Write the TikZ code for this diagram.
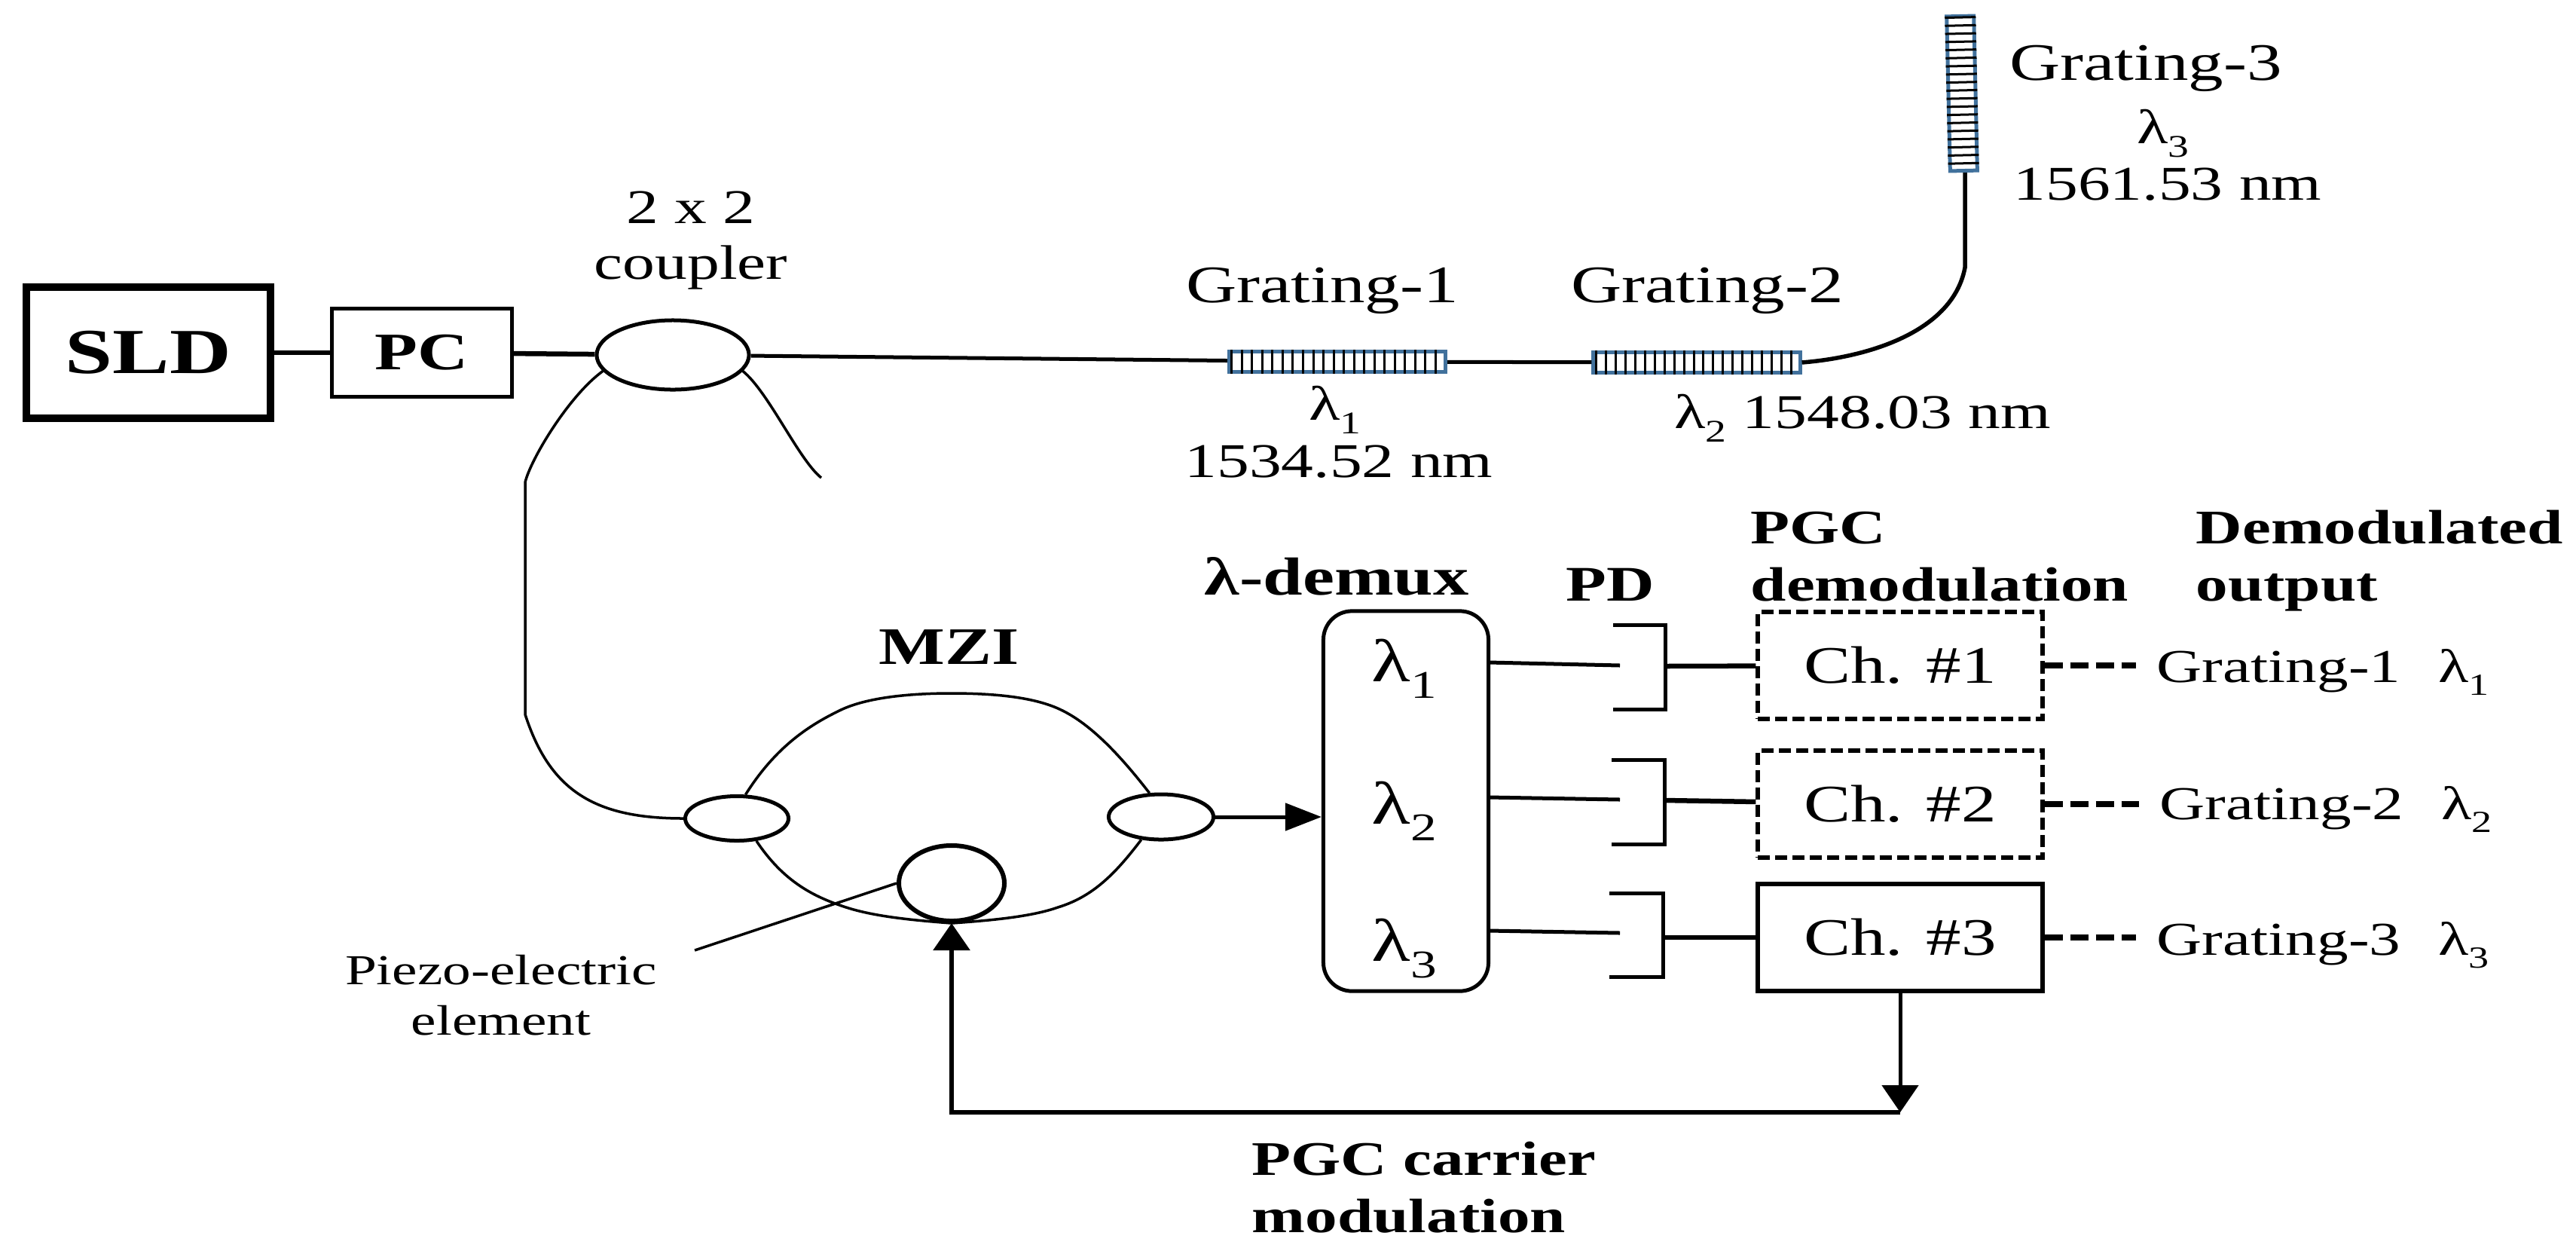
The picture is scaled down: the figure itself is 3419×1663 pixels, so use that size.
\documentclass[tikz,border=0pt]{standalone}
\usepackage{fontspec}
\setmainfont[FakeStretch=1.33]{Liberation Serif}
\usetikzlibrary{arrows.meta,shapes.geometric,calc}

\newcommand{\lamsub}[1]{λ\raisebox{-0.28em}{\scalebox{0.65}{#1}}}

\tikzset{
  lbl/.style={inner sep=0pt, anchor=base, align=center, font=\fontsize{18.3}{21}\selectfont},
  lblgrat/.style={lbl, font=\fontsize{19.9}{21}\selectfont},
  lblsmall/.style={lbl, font=\fontsize{16.1}{18.8}\selectfont},
  lblout/.style={lbl, anchor=base west, font=\fontsize{17.8}{20}\selectfont},
  lblbold/.style={inner sep=0pt, anchor=base west, align=left, font=\fontsize{18.2}{21.6}\selectfont\bfseries},
  fibre/.style={line width=0.035cm},
  lead/.style={line width=0.065cm},
  box/.style={draw, line width=0.05cm, rectangle, inner sep=0pt},
  chbox/.style={box, line width=0.06cm, minimum width=3.77cm, minimum height=1.41cm, font=\fontsize{19.9}{21}\selectfont},
  chdash/.style={dash pattern=on 0.16cm off 0.07cm},
  outdash/.style={line width=0.08cm, dash pattern=on 0.24cm off 0.10cm, shorten >=0.27cm},
  coupler/.style={draw, ellipse, line width=0.05cm, inner sep=0pt, fill=white},
  grating/.style={draw=gratingblue, rectangle, line width=0.05cm, inner sep=0pt},
  bragg/.style={line width=0.03cm},
  tip/.style={-{Triangle[length=0.48cm,width=0.36cm]}},
}
\definecolor{gratingblue}{HTML}{41719C}

\begin{document}
\begin{tikzpicture}[x=0.01cm,y=-0.01cm]
        \useasboundingbox (0,0) rectangle (3419,1663);

        % Source side
        \node[box, line width=0.1cm, minimum width=3.24cm, minimum height=1.74cm, font=\fontsize{24.2}{26}\selectfont\bfseries] (sld) at (197,468) {SLD};
        \node[box, minimum width=2.38cm, minimum height=1.16cm, font=\fontsize{19.9}{21}\selectfont\bfseries] (pc) at (560,468) {PC};
        \node[coupler, minimum width=2.02cm, minimum height=0.92cm] (cpl) at (893,471) {};
        \node[lbl] (cpltxt) at (917,370) {2 x 2\\coupler};

        % Gratings
        \node[grating, minimum width=2.87cm, minimum height=0.27cm] (gr1) at (1775,480) {};
        \node[grating, minimum width=2.74cm, minimum height=0.27cm] (gr2) at (2252,481) {};
        \node[grating, rotate=1.3, minimum width=0.36cm, minimum height=2.05cm] (gr3) at (2604,124) {};
        \foreach \i in {0,...,20} {
            \draw[bragg] ([xshift=0.06cm+\i*0.135cm]gr1.south west) -- ([xshift=0.06cm+\i*0.135cm]gr1.north west);
        }
        \foreach \i in {0,...,20} {
            \draw[bragg] ([xshift=0.06cm+\i*0.1295cm]gr2.south west) -- ([xshift=0.06cm+\i*0.1295cm]gr2.north west);
        }
        \foreach \i in {0,...,18} {
            \draw[bragg] ($(gr3.south west)!{(12+\i*10.5)/205}!(gr3.north west)$) -- ($(gr3.south east)!{(12+\i*10.5)/205}!(gr3.north east)$);
        }
        \node[lblgrat] (gr1txt) at (1755,401) {Grating-1};
        \node[lblgrat] (gr2txt) at (2266,401) {Grating-2};
        \node[lblgrat] (gr3txt) at (2848,106) {Grating-3};
        \node[lbl] (lam1) at (1772,557) {\lamsub{1}};
        \node[lbl] (wl1) at (1777,633) {1534.52 nm};
        \node[lbl] (wl2) at (2472,568) {\lamsub{2} 1548.03 nm};
        \node[lbl] (lam3) at (2871,190) {\lamsub{3}};
        \node[lbl] (wl3) at (2877,265) {1561.53 nm};

        % MZI
        \node[coupler, minimum width=1.37cm, minimum height=0.59cm] (mzil) at (978,1086) {};
        \node[coupler, minimum width=1.39cm, minimum height=0.60cm] (mzir) at (1541,1084) {};
        \node[draw, ellipse, line width=0.06cm, inner sep=0pt, minimum width=1.40cm, minimum height=1.00cm] (pzt) at (1263,1172) {};
        \node[lblbold, anchor=base, font=\fontsize{19.9}{21}\selectfont\bfseries] (mzitxt) at (1260,881) {MZI};
        \node[lblsmall] (pzttxt) at (665,1373) {Piezo-electric\\element};
        \coordinate (pztend) at (922,1261);

        % Demux, photodiodes and channels
        \node[box, rounded corners=0.38cm, minimum width=2.19cm, minimum height=5.04cm] (dmx) at (1866,1063) {};
        \node[lbl, font=\fontsize{22.8}{24}\selectfont] (dl1) at (1864,904) {\lamsub{1}};
        \node[lbl, font=\fontsize{22.8}{24}\selectfont] (dl2) at (1864,1093) {\lamsub{2}};
        \node[lbl, font=\fontsize{22.8}{24}\selectfont] (dl3) at (1864,1275) {\lamsub{3}};
        \node[lblbold, font=\fontsize{20.2}{21.6}\selectfont\bfseries] (dmxtxt) at (1598,789) {λ-demux};
        \node[lblbold, anchor=base, font=\fontsize{18.8}{21}\selectfont\bfseries] (pdtxt) at (2137,797) {PD};
        \node[lblbold] (pgctxt) at (2323,797) {PGC\\demodulation};
        \node[lblbold] (outtxt) at (2914,797) {Demodulated\\output};
        \node[lblbold] (cartxt) at (1661,1635) {PGC carrier\\modulation};

        \node[chbox, chdash] (ch1) at (2522,883) {Ch. \#1};
        \node[chbox, chdash] (ch2) at (2522,1067) {Ch. \#2};
        \node[chbox] (ch3) at (2522,1244) {Ch. \#3};
        \node[lblout] (out1) at (2862,905) {Grating-1\hspace{0.5cm}\lamsub{1}};
        \node[lblout] (out2) at (2866,1087) {Grating-2\hspace{0.5cm}\lamsub{2}};
        \node[lblout] (out3) at (2862,1267) {Grating-3\hspace{0.5cm}\lamsub{3}};

        \coordinate (dm1) at (1976,879);
        \coordinate (dm2) at (1976,1058);
        \coordinate (dm3) at (1976,1235);
        \coordinate (pa1) at (2150,883);
        \coordinate (pa2) at (2150,1061);
        \coordinate (pa3) at (2150,1238);
        \coordinate (pd1) at (2210,884);
        \coordinate (pd2) at (2209,1062);
        \coordinate (pd3) at (2207,1244);
        \draw[line width=0.05cm] (2141,829) -- (2210,829) -- (2210,941) -- (2141,941);
        \draw[line width=0.05cm] (2139,1008) -- (2209,1008) -- (2209,1120) -- (2139,1120);
        \draw[line width=0.05cm] (2136,1185) -- (2207,1185) -- (2207,1296) -- (2136,1296);

        % Fibre paths
        \coordinate (cplend) at (1090,634);
        \coordinate (bendup) at (697,640);
        \coordinate (benddn) at (697,948);
        \coordinate (gr3end) at (2608,355);
        \coordinate (mzitop) at (1262,920);
        \draw[lead] (sld) -- (pc);
        \draw[lead] (pc) -- (cpl);
        \draw[line width=0.05cm] (cpl) -- (gr1);
        \draw[line width=0.05cm] (gr1) -- (gr2);
        \draw[line width=0.055cm] (gr2.east) .. controls (2480,474) and (2592,440) .. (gr3end) -- (gr3end |- gr3.south);
        \draw[fibre] (cpl.193) .. controls (755,525) and (704,610) .. (bendup) -- (benddn)
            .. controls (730,1050) and (790,1086) .. (mzil.west);
        \draw[fibre] (cpl.347) .. controls (1020,520) and (1060,610) .. (cplend);
        \draw[fibre] (mzil.70) .. controls (1030,990) and (1075,962) .. (1114,943)
            .. controls (1150,925) and (1210,920) .. (mzitop)
            .. controls (1320,920) and (1370,925) .. (1404,940)
            .. controls (1445,958) and (1485,1000) .. (mzir.116);
        \draw[fibre] (mzil.311) .. controls (1040,1170) and (1080,1190) .. (1123,1204)
            .. controls (1160,1216) and (1210,1221) .. (pzt.south)
            .. controls (1320,1221) and (1370,1216) .. (1404,1204)
            .. controls (1450,1190) and (1480,1160) .. (mzir.229);
        \draw[fibre] (pzt.west) -- (pztend);
        \draw[line width=0.05cm, tip] (mzir) -- (mzir -| dmx.west);

        % Demux to channels
        \draw[line width=0.05cm] (dm1) -- (pa1);
        \draw[line width=0.05cm] (dm2) -- (pa2);
        \draw[line width=0.05cm] (dm3) -- (pa3);
        \draw[lead] (pd1) -- (ch1);
        \draw[lead] (pd2) -- (ch2);
        \draw[lead] (pd3) -- (ch3);
        \draw[outdash] (ch1.east) -- (out1.west |- ch1.east);
        \draw[outdash] (ch2.east) -- (out2.west |- ch2.east);
        \draw[outdash] (ch3.east) -- (out3.west |- ch3.east);

        % Carrier feedback
        \coordinate (fbk) at (2522,1476);
        \draw[line width=0.05cm, -{Triangle[length=0.36cm,width=0.48cm]}] (ch3.south) -- (fbk);
        \draw[line width=0.06cm, -{Triangle[length=0.36cm,width=0.48cm]}] (fbk) -- (fbk -| pzt.south) -- (pzt.south);
\end{tikzpicture}
\end{document}
